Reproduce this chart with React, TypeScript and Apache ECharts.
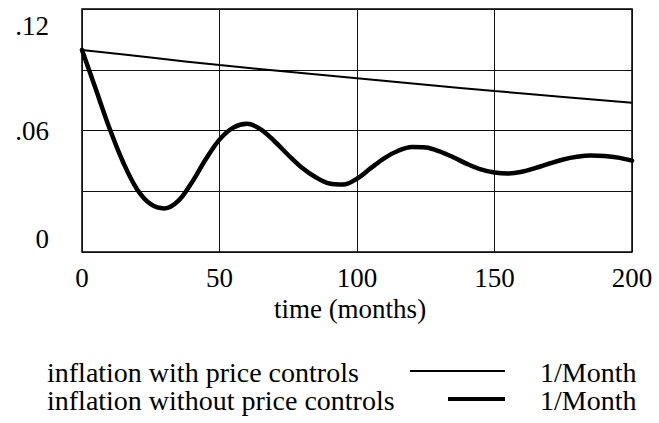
import React, { useEffect, useRef } from "react";
import * as echarts from "echarts";

const withControlsT = [0, 25, 50, 75, 100, 125, 150, 175, 200];
const withControls = [0.0998, 0.096, 0.0923, 0.089, 0.0858, 0.0826, 0.0795, 0.0766, 0.0737];

const withoutControlsT = [
  0, 5, 10, 15, 20, 25, 30, 35, 40, 45, 50, 55, 60, 65, 70, 75, 80, 85, 90, 95, 100,
  105, 110, 115, 120, 125, 130, 135, 140, 145, 150, 155, 160, 165, 170, 175, 180, 185, 190, 195, 200,
];
const withoutControls = [
  0.0998, 0.0805, 0.0611, 0.0442, 0.031, 0.0236, 0.0215, 0.0252, 0.0345, 0.0458, 0.0555,
  0.0614, 0.0633, 0.0606, 0.0547, 0.0479, 0.0416, 0.0369, 0.0338, 0.0333, 0.0362,
  0.0414, 0.0464, 0.05, 0.0518, 0.0516, 0.0497, 0.0468, 0.0435, 0.0408, 0.0393,
  0.0388, 0.0396, 0.0415, 0.0437, 0.0457, 0.047, 0.0476, 0.0474, 0.0466, 0.0451,
];

const yTickLabels: Record<string, string> = { "0": "0", "0.06": ".06", "0.12": ".12" };
const legendNames = ["inflation with price controls", "inflation without price controls"];
const unitLabel = "1/Month";
const xAxisName = "time (months)";

const FONT = "'Liberation Serif', 'Times New Roman', serif";

export default function App() {
  const ref = useRef<HTMLDivElement>(null);
  useEffect(() => {
    document.body.style.margin = "0";
    if (!ref.current) return;
    const chart = echarts.init(ref.current, undefined, { renderer: "svg" });
    const s1 = withControlsT.map((t, i) => [t, withControls[i]]);
    const s2 = withoutControlsT.map((t, i) => [t, withoutControls[i]]);
    const legendText = (text: string, left: number, top: number) => ({
      type: "text",
      left,
      top,
      style: { text, font: `28px ${FONT}`, fill: "#000", lineHeight: 26 },
    });
    chart.setOption({
      animation: false,
      backgroundColor: "#fff",
      grid: {
        left: 82,
        right: 27,
        top: 9,
        bottom: 171,
        show: true,
        borderColor: "#000",
        borderWidth: 1.5,
        backgroundColor: "transparent",
      },
      xAxis: {
        type: "value",
        min: 0,
        max: 200,
        interval: 50,
        axisLine: { show: false },
        axisTick: { show: false },
        splitLine: { show: true, lineStyle: { color: "#111", width: 1 } },
        axisLabel: {
          margin: 12,
          color: "#000",
          fontFamily: FONT,
          fontSize: 27,
        },
        name: xAxisName,
        nameLocation: "middle",
        nameGap: 34,
        nameTextStyle: {
          color: "#000",
          fontFamily: FONT,
          fontSize: 27,
          padding: [0, 14, 0, 0],
        },
      },
      yAxis: {
        type: "value",
        min: 0,
        max: 0.12,
        interval: 0.03,
        axisLine: { show: false },
        axisTick: { show: false },
        splitLine: { show: true, lineStyle: { color: "#111", width: 1 } },
        axisLabel: {
          margin: 33,
          color: "#000",
          fontFamily: FONT,
          fontSize: 27,
          verticalAlignMaxLabel: "top",
          verticalAlignMinLabel: "bottom",
          formatter: (v: number) => {
            const key = String(Math.round(v * 100) / 100);
            const lbl = yTickLabels[key];
            if (!lbl) return "";
            if (key === "0.12") return "{t|" + lbl + "}";
            return lbl;
          },
          rich: {
            t: { padding: [3, 0, 0, 0], fontFamily: FONT, fontSize: 27, color: "#000" },
          },
        },
      },
      series: [
        {
          name: legendNames[0],
          type: "line",
          data: s1,
          smooth: 0.35,
          showSymbol: false,
          lineStyle: { color: "#000", width: 2 },
        },
        {
          name: legendNames[1],
          type: "line",
          data: s2,
          smooth: 0.35,
          showSymbol: false,
          lineStyle: { color: "#000", width: 4.5, cap: "round", join: "round" },
        },
      ],
      graphic: [
        legendText(legendNames[0], 47, 358),
        {
          type: "line",
          shape: { x1: 410, y1: 371, x2: 505, y2: 371 },
          style: { stroke: "#000", lineWidth: 2 },
        },
        legendText(unitLabel, 540, 358),
        legendText(legendNames[1], 47, 386),
        {
          type: "line",
          shape: { x1: 448, y1: 399, x2: 505, y2: 399 },
          style: { stroke: "#000", lineWidth: 4 },
        },
        legendText(unitLabel, 540, 386),
      ],
    });
    return () => chart.dispose();
  }, []);
  return <div ref={ref} style={{ width: 659, height: 423 }} />;
}
